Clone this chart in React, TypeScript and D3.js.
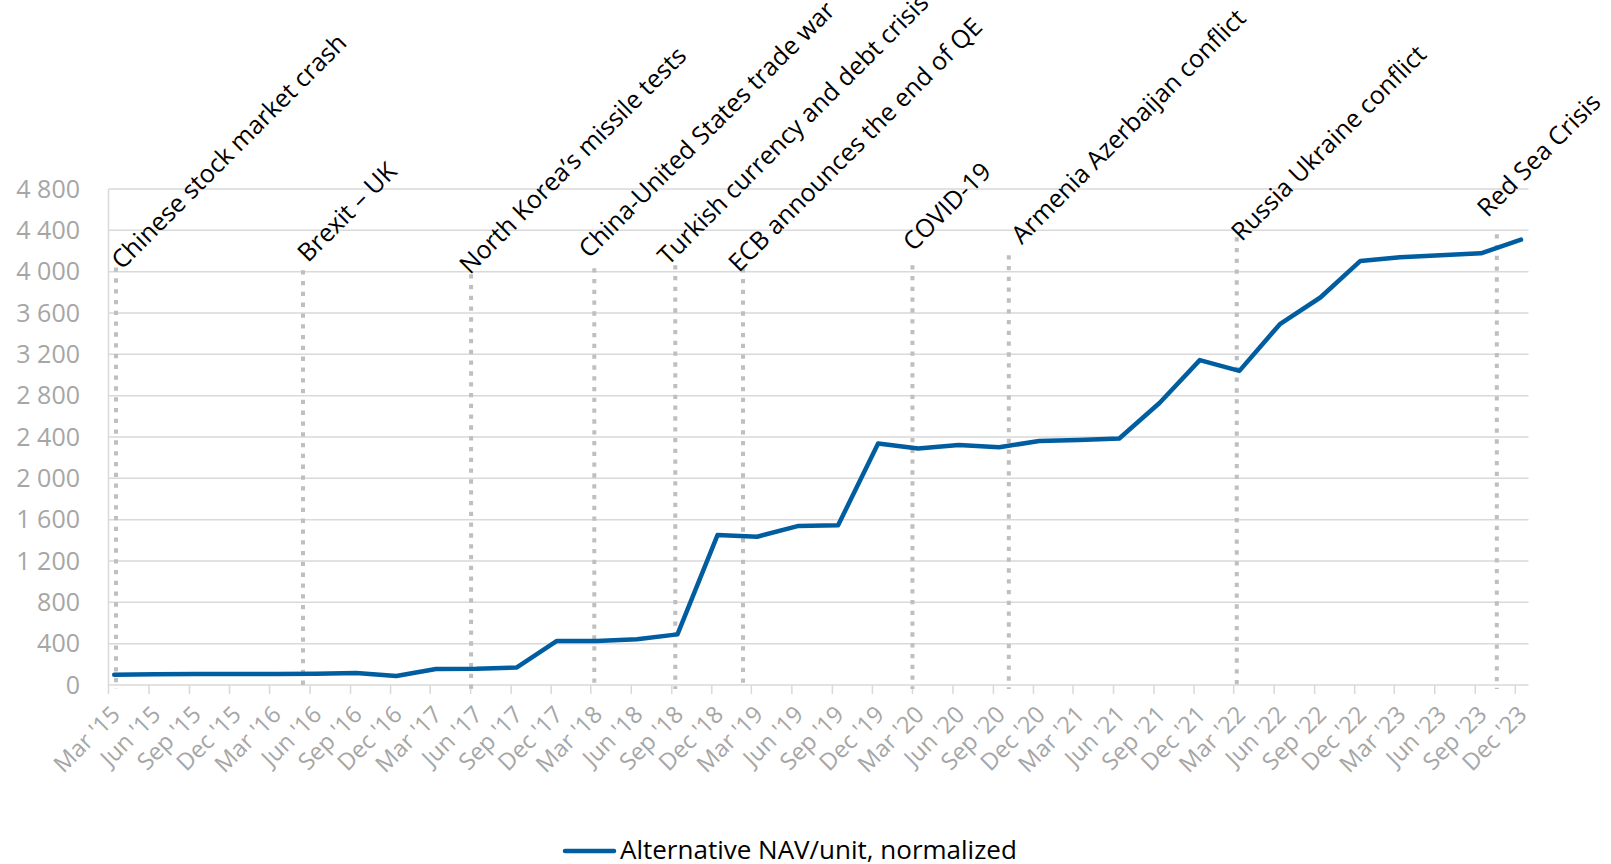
import React from "react";
import * as d3 from "d3";

// ---- Data ----
const DATES = [
  "2015-03-14", "2015-06-14", "2015-09-14", "2015-12-14",
  "2016-03-14", "2016-06-14", "2016-09-14", "2016-12-14",
  "2017-03-14", "2017-06-14", "2017-09-14", "2017-12-14",
  "2018-03-14", "2018-06-14", "2018-09-14", "2018-12-14",
  "2019-03-14", "2019-06-14", "2019-09-14", "2019-12-14",
  "2020-03-14", "2020-06-14", "2020-09-14", "2020-12-14",
  "2021-03-14", "2021-06-14", "2021-09-14", "2021-12-14",
  "2022-03-14", "2022-06-14", "2022-09-14", "2022-12-14",
  "2023-03-14", "2023-06-14", "2023-09-14", "2023-12-14",
];
const NAV = [
  100, 105, 107, 107,
  106, 108, 116, 87,
  155, 157, 170, 427,
  425, 443, 490, 1451,
  1435, 1538, 1545, 2338,
  2288, 2322, 2300, 2362,
  2372, 2385, 2731, 3144,
  3040, 3492, 3750, 4104,
  4140, 4160, 4178, 4310,
];
const SERIES_NAME = "Alternative NAV/unit, normalized";

const EVENT_NAMES = [
  "Chinese stock market crash",
  "Brexit – UK",
  "North Korea’s missile tests",
  "China-United States trade war",
  "Turkish currency and debt crisis",
  "ECB announces the end of QE",
  "COVID-19",
  "Armenia Azerbaijan conflict",
  "Russia Ukraine conflict",
  "Red Sea Crisis",
];
const EVENT_DATES = [
  "2015-03-18", "2016-05-16", "2017-06-02", "2018-03-09", "2018-09-09",
  "2019-02-10", "2020-03-01", "2020-10-06", "2022-03-08", "2023-10-20",
];
const EVENT_TOPS = [4040, 4014, 3976, 4034, 4063, 4034, 4063, 4160, 4334, 4363];

const Y_TICKS = [0, 400, 800, 1200, 1600, 2000, 2400, 2800, 3200, 3600, 4000, 4400, 4800];
const X_DOMAIN = ["2015-03-01", "2023-12-31"];
const X_TICK_START = "2015-03-01";
const X_TICK_END = "2024-01-01";

// layout-only nudges for event labels (px, relative to the top of each event line)
const LABEL_NUDGE: [number, number][] = [
  [6, 3], [5, -7], [-1, 1], [-5, -9], [-7, 1],
  [-4, 5], [1, -13], [13, -10], [5, 5], [-9, -16],
];

// ---- Layout ----
const W = 1611;
const H = 864;
const LEFT = 108.5;
const RIGHT = 1528.5;
const TOP = 189;
const BOTTOM = 685;
const FONT = "'Open Sans', 'DejaVu Sans', sans-serif";
const BLUE = "#005DA0";
const GRID = "#d9d9d9";
const AXIS_TEXT = "#a6a6a6";

const parse = d3.timeParse("%Y-%m-%d");

export default function App() {
  const x = d3.scaleTime()
    .domain(X_DOMAIN.map((d) => parse(d) as Date))
    .range([LEFT, RIGHT]);
  const y = d3.scaleLinear().domain([0, 4800]).range([BOTTOM, TOP]);

  const ticks = d3.timeMonth.range(parse(X_TICK_START) as Date, parse(X_TICK_END) as Date, 3);
  const fmtX = d3.timeFormat("%b '%y");
  const locale = d3.formatLocale({ decimal: ",", thousands: " ", grouping: [3], currency: ["", ""] });
  const fmtY = locale.format(",");

  const points = DATES.map((d, i) => ({ date: parse(d) as Date, v: NAV[i] }));
  const line = d3.line<{ date: Date; v: number }>()
    .x((d) => x(d.date))
    .y((d) => y(d.v));

  return (
    <svg
      width={W}
      height={H}
      viewBox={`0 0 ${W} ${H}`}
      style={{ position: "absolute", left: 0, top: 0, background: "#fff" }}
      fontFamily={FONT}
    >
      {/* gridlines */}
      {Y_TICKS.map((t) => (
        <line key={"g" + t} x1={LEFT} x2={RIGHT} y1={y(t)} y2={y(t)} stroke={GRID} strokeWidth={1.5} />
      ))}
      {/* left axis line */}
      <line x1={LEFT} x2={LEFT} y1={y(4800)} y2={y(0)} stroke={GRID} strokeWidth={1.5} />
      {/* x ticks */}
      {ticks.map((t, i) => (
        <line key={"t" + i} x1={x(t)} x2={x(t)} y1={y(0)} y2={y(0) + 9} stroke={GRID} strokeWidth={1.5} />
      ))}
      {/* y labels */}
      {Y_TICKS.map((t) => (
        <text key={"yl" + t} x={80} y={y(t)} dy="0.35em" textAnchor="end" fontSize={25} fill={AXIS_TEXT}>
          {fmtY(t)}
        </text>
      ))}
      {/* x labels */}
      {ticks.map((t, i) => {
        const lx = x(t) + 13;
        const ly = y(0) + 31;
        return (
          <text
            key={"xl" + i}
            x={lx}
            y={ly}
            textAnchor="end"
            fontSize={23.5}
            fill={AXIS_TEXT}
            transform={`rotate(-45 ${lx} ${ly})`}
          >
            {fmtX(t)}
          </text>
        );
      })}
      {/* event lines */}
      {EVENT_DATES.map((d, i) => {
        const ex = x(parse(d) as Date);
        return (
          <line
            key={"e" + i}
            x1={ex}
            x2={ex}
            y1={y(EVENT_TOPS[i])}
            y2={y(0) + 4}
            stroke="#bfbfbf"
            strokeWidth={4}
            strokeDasharray="4.3 6.5"
          />
        );
      })}
      {/* series */}
      <path d={line(points) || ""} fill="none" stroke={BLUE} strokeWidth={4.5} strokeLinejoin="round" strokeLinecap="round" />
      {/* event labels */}
      {EVENT_NAMES.map((name, i) => {
        const ex = x(parse(EVENT_DATES[i]) as Date) + LABEL_NUDGE[i][0];
        const ey = y(EVENT_TOPS[i]) + LABEL_NUDGE[i][1];
        return (
          <text key={"el" + i} x={ex} y={ey} fontSize={25} fill="#000" transform={`rotate(-45 ${ex} ${ey})`}>
            {name}
          </text>
        );
      })}
      {/* legend */}
      <line x1={565} x2={614} y1={851} y2={851} stroke={BLUE} strokeWidth={4.5} strokeLinecap="round" />
      <text x={620} y={859} fontSize={26} fill="#000">
        {SERIES_NAME}
      </text>
    </svg>
  );
}
